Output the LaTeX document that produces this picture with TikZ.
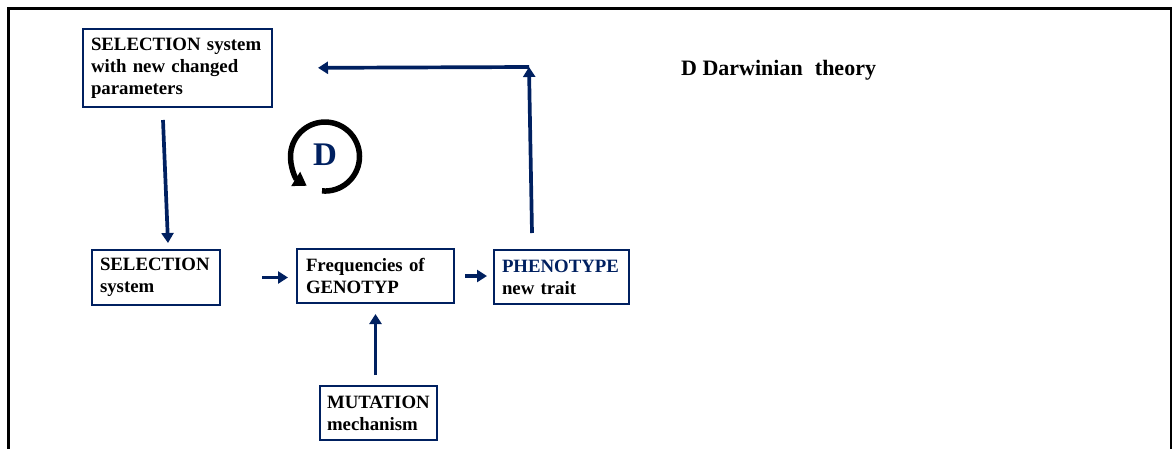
\documentclass[tikz,border=0pt]{standalone}
\usepackage{fontspec}
\setmainfont{Liberation Serif}
\usetikzlibrary{arrows.meta}
\definecolor{navy}{RGB}{0,32,96}
\begin{document}
\begin{tikzpicture}[x=1pt,y=-1pt,
  box/.style={draw=navy, line width=2pt, anchor=north west, align=left, inner sep=0pt,
    font=\fontsize{18.8}{22}\selectfont\bfseries},
  arr/.style={draw=navy, line width=3.7pt, -{Triangle[length=10pt,width=12pt]}},
  circarrow/.style={draw=black, line width=5.5pt, -{Triangle[length=13pt,width=16pt]}},
]
\useasboundingbox (0,0) rectangle (1172,448);
\draw[line width=3pt] (8,470) -- (8,8) -- (1171,8) -- (1171,470);

\node[box, minimum width=189, minimum height=78, text width=173] (top) at (82,28)
  {SELECTION system\\with new changed\\parameters};
\node[box, minimum width=128, minimum height=55, text width=112] (sel) at (91,249)
  {SELECTION\\system};
\node[box, minimum width=157, minimum height=54, text width=139] (freq) at (296,248)
  {Frequencies of\\GENOTYP};
\node[box, minimum width=135, minimum height=54, text width=119] (phen) at (493,249)
  {\textcolor{navy}{PHENOTYPE}\\new trait};
\node[box, minimum width=117, minimum height=54, text width=103] (mut) at (319,385)
  {MUTATION\\mechanism};

\node[anchor=base west, inner sep=0pt, font=\fontsize{22}{22}\selectfont\bfseries] (title)
  at (681,75) {D Darwinian\hspace{0.55em}theory};

% cycle symbol
\node[inner sep=0pt, text=navy, font=\fontsize{33}{33}\selectfont\bfseries] (dd) at (325,155) {D};
\draw[circarrow] (322,190.9) arc[start angle=95, end angle=-238, radius=34.5];

% connectors
\coordinate (a1s) at (163,120);
\coordinate (a1e) at (168,243);
\draw[arr] (a1s) -- (a1e);

\draw[arr, shorten <=41pt, shorten >=8pt] (sel.east) -- (sel.east -| freq.west);
\draw[arr, shorten <=10pt, shorten >=6pt] (freq.east) -- (freq.east -| phen.west);
\draw[arr, shorten <=10pt, shorten >=10pt] (mut.north -| freq.south) -- (freq.south);

\coordinate (p1) at (532,233);
\coordinate (corner) at (529,67);
\draw[arr] (p1) -- (corner);
\draw[arr, shorten >=45pt] (corner) -- (top.east);
\end{tikzpicture}
\end{document}
